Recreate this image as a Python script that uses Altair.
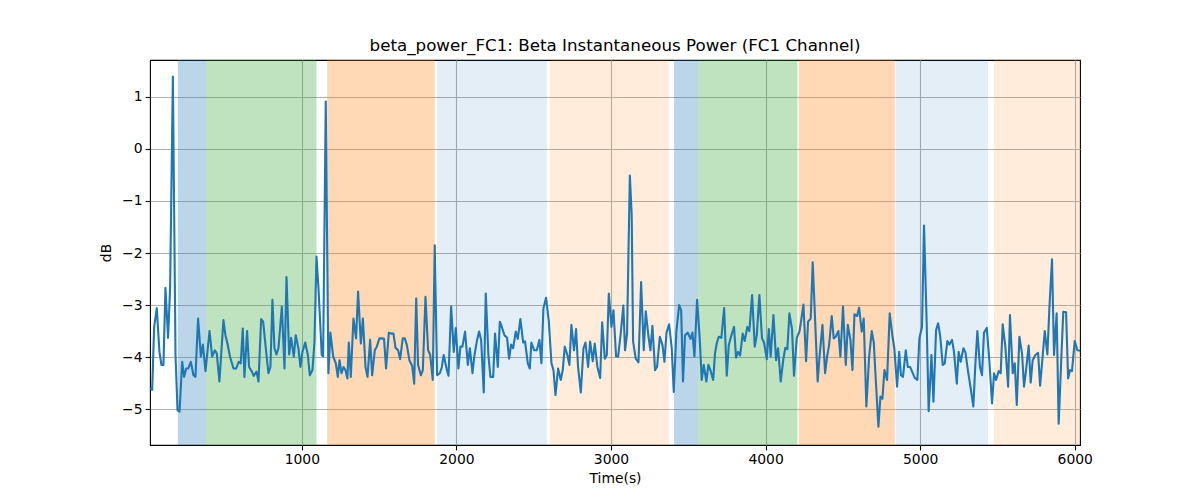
"""Beta instantaneous power for channel FC1, with shaded phase bands"""

import altair as alt
import pandas as pd


# Sample times (s) and beta power (dB)
times = [
    18, 32, 45, 62, 79, 92, 105, 118, 135, 148, 166, 183, 196, 209, 226, 239,
    252, 265, 282, 299, 312, 329, 347, 360, 377, 403, 420, 437, 450, 467, 493,
    506, 519, 536, 558, 575, 592, 605, 618,
    629, 646, 659, 677, 689, 707, 720, 737, 750, 767, 784, 797, 810, 823, 836,
    849, 871, 888, 901, 918, 931, 948, 961, 978, 991, 1004, 1022, 1039, 1052,
    1069, 1082, 1095, 1108, 1129, 1138, 1155, 1172, 1185, 1203, 1220, 1233,
    1244, 1257, 1270, 1282, 1295, 1304, 1317, 1334, 1351, 1364, 1382, 1395,
    1412, 1425, 1442, 1455, 1472, 1485, 1502, 1515, 1532, 1545, 1563, 1580,
    1593, 1606, 1623, 1636, 1653, 1666, 1679, 1696, 1714, 1727, 1740, 1752,
    1770, 1783, 1800, 1817, 1830, 1847, 1860,
    1875, 1893, 1906, 1918, 1936, 1949, 1966, 1983, 1996, 2013, 2026, 2039,
    2056, 2074, 2087, 2104, 2117, 2134, 2147, 2160, 2177, 2190, 2207, 2220,
    2238, 2250, 2268, 2281, 2298, 2311, 2328, 2341, 2354, 2367, 2384, 2397,
    2414, 2432, 2444, 2462, 2475,
    2485, 2503, 2520, 2537, 2550, 2563, 2580, 2598, 2615, 2628, 2641, 2658,
    2675, 2688, 2701, 2718, 2731, 2744, 2761, 2774, 2787, 2805, 2822, 2835,
    2852, 2865, 2882, 2895, 2912, 2930, 2943, 2960, 2973, 2986, 3003, 3016,
    3033, 3046, 3063, 3080,
    3091, 3104, 3122, 3134, 3143, 3160, 3178, 3195, 3212, 3225, 3242, 3255,
    3268, 3285, 3298, 3316, 3333, 3346, 3359, 3376, 3393, 3406, 3423, 3441,
    3454, 3466, 3479, 3497, 3514, 3527, 3540, 3557, 3574, 3587, 3600, 3617,
    3630, 3643, 3661, 3673,
    3684, 3697, 3714, 3732, 3749, 3762, 3779, 3796, 3809, 3822, 3835, 3852,
    3865, 3882, 3895, 3913, 3930, 3943, 3960, 3977, 3990, 4008, 4021, 4033,
    4051, 4068, 4081, 4098, 4115, 4128, 4141, 4154, 4171, 4184, 4202, 4219,
    4232, 4245, 4262, 4275, 4292, 4305,
    4320, 4337, 4350, 4368, 4385, 4398, 4411, 4428, 4441, 4454, 4471, 4484,
    4501, 4519, 4532, 4549, 4562, 4575, 4592, 4605, 4622, 4635, 4652, 4670,
    4687, 4700, 4713, 4730, 4743, 4756, 4769, 4786, 4803, 4820, 4833, 4851,
    4864, 4876, 4889, 4907, 4920,
    4935, 4948, 4965, 4982, 4995, 5012, 5025, 5042, 5055, 5073, 5086, 5103,
    5116, 5129, 5146, 5159, 5176, 5189, 5206, 5219, 5237, 5249, 5262, 5280,
    5293, 5310, 5327, 5344, 5357, 5370, 5387, 5400, 5413, 5431, 5448, 5465,
    5478, 5491, 5508, 5521, 5534,
    5551, 5569, 5581, 5599, 5612, 5625, 5642, 5659, 5672, 5685, 5702, 5715,
    5728, 5745, 5763, 5776, 5793, 5806, 5823, 5836, 5853, 5866, 5883, 5896,
    5914, 5926, 5944, 5957, 5970, 5982, 6000, 6017, 6034,
]

power_db = [
    -4.60, -4.63, -3.42, -3.06, -3.90, -4.15, -4.15, -2.67, -3.63, -2.68, 1.39,
    -3.96, -5.02, -5.05, -4.09, -4.38, -4.22, -4.22, -4.09, -4.35, -4.38, -3.26,
    -3.99, -3.76, -4.27, -3.50, -3.99, -3.87, -3.93, -4.47, -3.29, -3.58, -3.74,
    -4.00, -4.22, -4.22, -4.09, -4.12, -3.45,
    -4.38, -3.50, -4.19, -4.28, -4.36, -4.28, -4.47, -3.27, -3.32, -3.83, -4.31,
    -4.19, -2.90, -3.83, -3.95, -3.83, -3.03, -4.22, -2.46, -3.95, -3.63, -3.99,
    -3.58, -3.83, -4.19, -3.90, -3.72, -3.96, -4.35, -4.25, -3.70, -2.07, -2.68,
    -3.96, -3.99, 0.91, -4.31, -3.53, -3.99, -4.12, -4.38,
    -4.06, -4.31, -4.19, -4.25, -4.41, -3.72, -4.38, -3.26, -3.64, -2.74, -3.74,
    -3.26, -4.19, -4.38, -3.67, -4.35, -3.87, -3.80, -3.64, -3.64, -3.65, -4.22,
    -3.53, -3.55, -3.55, -3.82, -3.87, -4.04, -3.64, -3.64, -3.76, -4.06, -4.17,
    -4.51, -2.87, -4.15, -4.35, -4.25, -2.84, -3.87, -3.95, -4.44, -1.85,
    -4.35, -4.31, -4.19, -3.96, -4.22, -4.36, -3.03, -3.90, -3.44, -4.22, -3.80,
    -3.80, -3.51, -4.15, -3.83, -4.31, -3.96, -3.67, -3.51, -3.67, -4.68, -2.78,
    -3.96, -4.38, -4.38, -3.55, -4.19, -3.32, -3.46, -3.58, -3.63, -4.03, -3.76,
    -3.83, -3.51, -3.65, -3.27, -3.72, -3.70, -4.12, -4.22,
    -3.72, -3.87, -3.87, -3.67, -4.12, -3.06, -2.86, -3.32, -4.12, -4.25, -4.73,
    -4.22, -4.44, -4.25, -3.80, -3.96, -4.15, -3.38, -3.87, -3.46, -4.19, -4.68,
    -3.83, -3.72, -4.19, -3.70, -4.08, -3.74, -4.19, -4.40, -3.33, -4.03, -3.96,
    -2.78, -3.42, -3.10, -3.99, -3.99, -3.55, -3.01,
    -3.87, -3.55, -0.51, -1.27, -3.70, -4.03, -4.10, -2.56, -3.87, -3.12, -3.59,
    -3.87, -3.40, -4.25, -4.19, -3.61, -3.77, -4.09, -3.53, -3.37, -3.83, -4.67,
    -3.51, -3.00, -3.10, -4.47, -3.58, -3.53, -3.65, -3.53, -3.99, -2.90, -3.64,
    -4.44, -4.15, -4.47, -4.15, -4.25, -4.44, -3.93,
    -3.74, -3.61, -3.63, -3.06, -4.36, -3.77, -3.58, -3.42, -4.01, -3.90, -3.97,
    -3.55, -3.69, -3.42, -3.50, -2.81, -3.80, -3.58, -2.81, -3.64, -3.72, -4.04,
    -3.46, -3.99, -3.19, -4.06, -3.83, -4.47, -4.04, -3.82, -3.85, -3.16, -3.46,
    -4.36, -3.63, -3.51, -3.26, -2.99, -4.08, -3.32, -3.26, -2.18,
    -3.26, -4.47, -3.96, -3.38, -4.31, -3.99, -3.77, -3.21, -3.64, -3.61, -3.50,
    -3.99, -3.03, -4.15, -3.38, -3.67, -4.25, -3.18, -3.21, -3.05, -3.51, -3.26,
    -4.95, -3.99, -3.50, -3.72, -4.44, -5.34, -4.76, -4.80, -4.25, -4.44, -3.16,
    -3.58, -3.83, -4.57, -3.90, -4.35, -4.38, -3.87, -4.19,
    -4.19, -4.28, -4.40, -4.44, -3.64, -3.42, -1.47, -3.32, -5.04, -3.96, -4.86,
    -3.48, -3.35, -3.58, -4.15, -4.12, -3.69, -3.76, -3.67, -3.90, -4.51, -3.90,
    -4.09, -3.83, -3.91, -4.28, -4.60, -4.95, -4.15, -3.50, -4.19, -4.35, -3.53,
    -3.44, -4.09, -4.89, -4.31, -4.44, -4.27, -4.31, -3.37,
    -3.80, -4.57, -3.19, -4.31, -4.12, -4.92, -3.61, -3.93, -4.57, -4.25, -3.78,
    -4.49, -4.06, -3.96, -3.92, -4.55, -3.96, -3.50, -3.95, -3.06, -2.12, -3.96,
    -3.16, -5.28, -3.96, -3.13, -3.14, -4.41, -4.25, -4.27, -3.69, -3.87, -3.88,
]

# Shaded phase bands (s)
band_starts = [198, 380, 1164, 1875, 2604, 3408, 3566, 4214, 4842, 5478]
band_ends = [380, 1095, 1860, 2585, 3376, 3566, 4206, 4836, 5439, 6034]
band_kinds = ["blue", "green", "orange", "pale_blue", "pale_orange",
              "blue", "green", "orange", "pale_blue", "pale_orange"]

x_ticks = [1000, 2000, 3000, 4000, 5000, 6000]
y_ticks = [-5, -4, -3, -2, -1, 0, 1]

# Styling
LINE_COLOR = "#1f77b4"
BAND_STYLE = {
    "blue": ("#1f77b4", 0.3),
    "green": ("#2ca02c", 0.3),
    "orange": ("#ff7f0e", 0.3),
    "pale_blue": ("#1f77b4", 0.12),
    "pale_orange": ("#ff7f0e", 0.15),
}
FONT = "DejaVu Sans"
X_DOMAIN = [18, 6034]
Y_DOMAIN = [-5.69, 1.71]

series = pd.DataFrame({"time": times, "db": power_db})
bands = pd.DataFrame({"start": band_starts, "end": band_ends, "kind": band_kinds})
bands["color"] = bands["kind"].map(lambda k: BAND_STYLE[k][0])
bands["alpha"] = bands["kind"].map(lambda k: BAND_STYLE[k][1])

x_scale = alt.Scale(domain=X_DOMAIN, nice=False, zero=False)
y_scale = alt.Scale(domain=Y_DOMAIN, nice=False, zero=False)

band_layer = alt.Chart(bands).mark_rect().encode(
    x=alt.X("start:Q", scale=x_scale),
    x2="end:Q",
    color=alt.Color("color:N", scale=None),
    opacity=alt.Opacity("alpha:Q", scale=None),
)

line_layer = alt.Chart(series).mark_line(
    color=LINE_COLOR, strokeWidth=2.1, strokeJoin="round"
).encode(
    x=alt.X("time:Q", scale=x_scale, title="Time(s)",
            axis=alt.Axis(values=x_ticks, format="d", titlePadding=5)),
    y=alt.Y("db:Q", scale=y_scale, title="dB",
            axis=alt.Axis(values=y_ticks, format="d", titlePadding=8)),
)

chart = (band_layer + line_layer).properties(
    width=930,
    height=385,
    autosize="none",
    padding={"left": 142, "top": 52, "right": 100, "bottom": 40},
    title=alt.Title(
        "beta_power_FC1: Beta Instantaneous Power (FC1 Channel)",
        fontSize=16.7, fontWeight="normal", font=FONT, color="black", offset=5,
    ),
).configure_axis(
    labelFont=FONT, titleFont=FONT, labelFontSize=13.9, titleFontSize=13.9,
    titleFontWeight="normal", labelColor="black", titleColor="black",
    tickColor="black", tickSize=4.9, tickWidth=1.1, labelPadding=3,
    domain=False, grid=True, gridColor="#b0b0b0", gridWidth=1.1,
).configure_view(
    stroke="black", strokeWidth=1.1
)

chart.save("out.html", embed_options={"renderer": "svg", "actions": False})
